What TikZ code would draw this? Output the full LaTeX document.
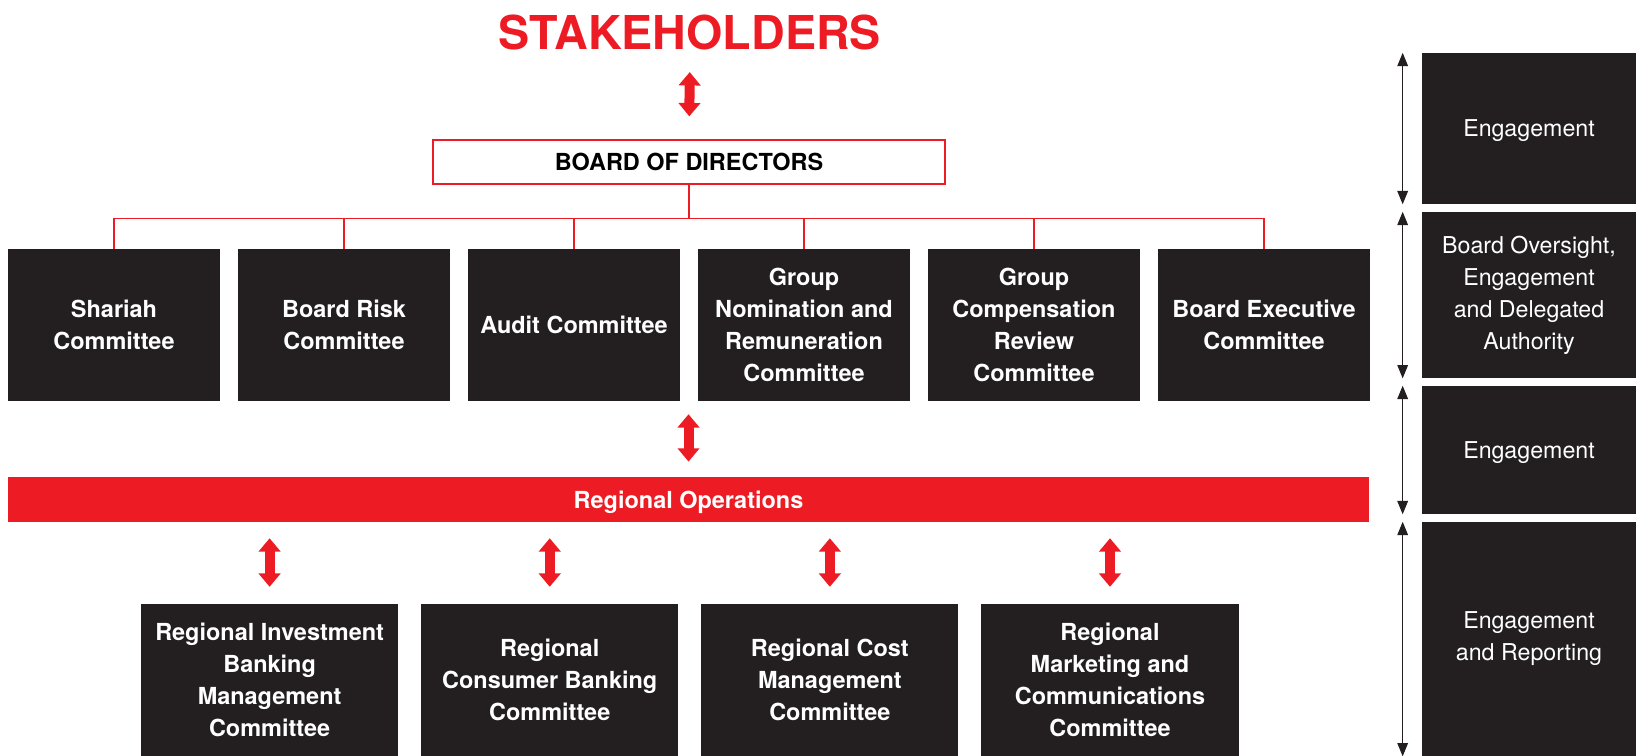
\documentclass[tikz,border=0pt]{standalone}
\usepackage{fontspec}
\setmainfont{TeX Gyre Heros}
\usetikzlibrary{arrows.meta, positioning}
\definecolor{bankred}{RGB}{237,28,36}
\definecolor{boxdark}{RGB}{35,31,32}

\begin{document}
\begin{tikzpicture}[
      comm/.style={rectangle, fill=boxdark, text=white, inner sep=0pt,
                   minimum width=159pt, minimum height=114pt, align=center,
                   font=\bfseries\fontsize{17.6}{24}\selectfont},
      regbox/.style={comm, minimum width=192.8pt},
      sidebox/.style={rectangle, fill=boxdark, text=white, inner sep=0pt,
                      minimum width=160.5pt, align=center,
                      font=\fontsize{17.4}{24}\selectfont},
      redarr/.style={{Triangle[width=16pt,length=10pt]}-{Triangle[width=16pt,length=10pt]},
                     line width=7.5pt, bankred},
      sidearr/.style={{Triangle[width=8pt,length=10pt]}-{Triangle[width=8pt,length=10pt]},
                      line width=0.8pt, boxdark},
      tree/.style={bankred, line width=0.9pt},
      node distance=13.1pt
    ]
    \useasboundingbox (0,0) rectangle (1227pt,-567pt);

    % top of the chart
    \node[text=bankred, inner sep=0pt, font=\bfseries\fontsize{35}{40}\selectfont]
      (stake) at (517.5pt,-24.7pt) {STAKEHOLDERS};
    \node[rectangle, draw=bankred, line width=1.1pt, minimum width=384pt,
          minimum height=33pt, inner sep=0pt, text depth=0pt,
          font=\bfseries\fontsize{17.6}{20}\selectfont]
      (board) at (516.8pt,-121.5pt) {BOARD OF DIRECTORS};

    % board committees
    \node[comm] (c1) at (85.5pt,-243.8pt) {Shariah\\Committee};
    \node[comm, right=of c1] (c2) {Board Risk\\Committee};
    \node[comm, right=of c2] (c3) {Audit Committee};
    \node[comm, right=of c3] (c4) {Group\\Nomination and\\Remuneration\\Committee};
    \node[comm, right=of c4] (c5) {Group\\Compensation\\Review\\Committee};
    \node[comm, right=of c5] (c6) {Board Executive\\Committee};

    \node[rectangle, fill=bankred, text=white, minimum width=1020.8pt,
          minimum height=33.8pt, inner sep=0pt, text depth=0pt,
          font=\bfseries\fontsize{17.6}{20}\selectfont]
      (ops) at (516.4pt,-374.6pt) {Regional Operations};

    % regional committees
    \node[regbox] (r1) at (202.2pt,-510pt) {Regional Investment\\Banking\\Management\\Committee};
    \node[regbox, right=16.9pt of r1] (r2) {Regional\\Consumer Banking\\Committee};
    \node[regbox, right=16.9pt of r2] (r3) {Regional Cost\\Management\\Committee};
    \node[regbox, right=16.9pt of r3] (r4) {Regional\\Marketing and\\Communications\\Committee};

    % side column
    \node[sidebox, minimum height=113.2pt, text depth=0pt] (e1) at (1146.75pt,-96.4pt) {Engagement};
    \node[sidebox, minimum height=124.5pt] (e2) at (1146.75pt,-221.3pt)
      {Board Oversight,\\Engagement\\and Delegated\\Authority};
    \node[sidebox, minimum height=96pt, text depth=0pt] (e3) at (1146.75pt,-337.5pt) {Engagement};
    \node[sidebox, minimum height=175.5pt] (e4) at (1146.75pt,-479.3pt) {Engagement\\and Reporting};

    \draw[redarr, shorten <=16pt, shorten >=17.2pt] (stake.south) -- (board.north);
    \foreach \c in {c1,c2,c3,c4,c5,c6}
      \draw[tree] (board.south) |- ([yshift=22.5pt]\c.north) -- (\c.north);
    \draw[redarr, shorten <=9.7pt, shorten >=11.3pt] (ops.north |- c3.south) -- (ops.north);
    \foreach \r in {r1,r2,r3,r4}
      \draw[redarr, shorten <=12pt, shorten >=12.7pt] (\r.north |- ops.south) -- (\r.north);
    \foreach \e in {e1,e2,e3,e4}
      \draw[sidearr] ([xshift=-14.3pt]\e.north west) -- ([xshift=-14.3pt]\e.south west);
  \end{tikzpicture}
\end{document}
